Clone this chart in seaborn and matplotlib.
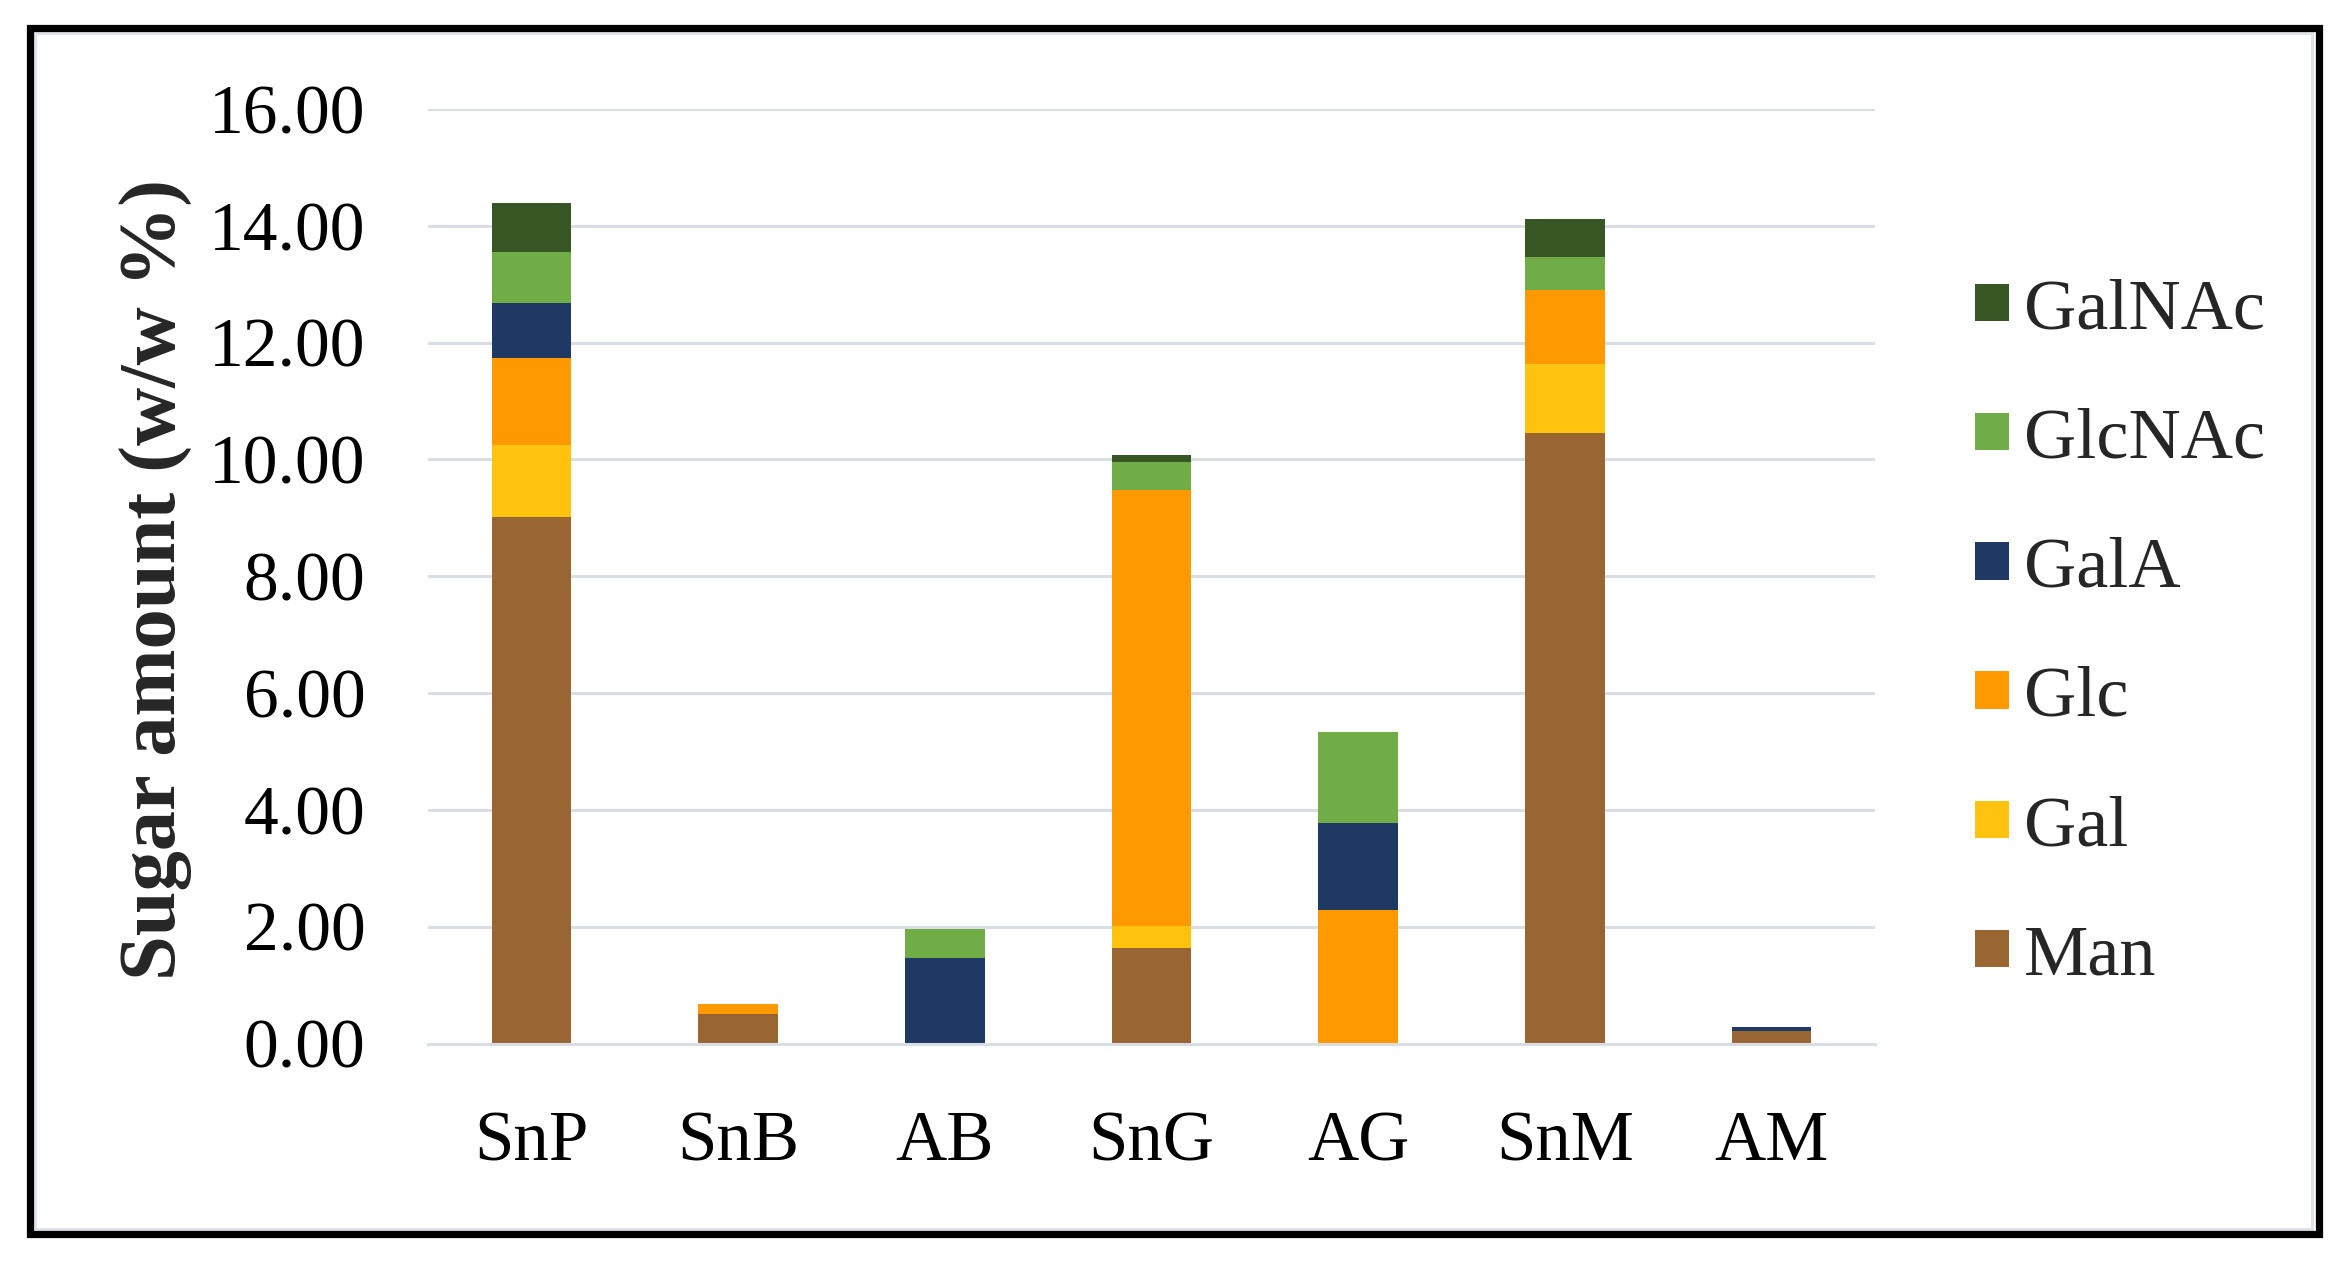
import numpy as np
import pandas as pd
import matplotlib
matplotlib.use("Agg")
import matplotlib.pyplot as plt
import matplotlib.ticker as ticker
from matplotlib.patches import Rectangle
import seaborn as sns

samples = ["SnP", "SnB", "AB", "SnG", "AG", "SnM", "AM"]

# sugar amounts (w/w %)
man = [9.02, 0.50, 0.00, 1.64, 0.00, 10.45, 0.22]
gal = [1.23, 0.00, 0.00, 0.37, 0.00, 1.18, 0.00]
glc = [1.48, 0.17, 0.00, 7.46, 2.29, 1.27, 0.00]
gala = [0.95, 0.00, 1.46, 0.00, 1.49, 0.00, 0.06]
glcnac = [0.88, 0.00, 0.50, 0.49, 1.55, 0.56, 0.00]
galnac = [0.83, 0.00, 0.00, 0.11, 0.00, 0.66, 0.00]

sugars = ["Man", "Gal", "Glc", "GalA", "GlcNAc", "GalNAc"]
colors = ["#996633", "#FFC20E", "#FF9900", "#1F3864", "#70AD47", "#375623"]
yticks = [0, 2, 4, 6, 8, 10, 12, 14, 16]

df = pd.DataFrame({"Man": man, "Gal": gal, "Glc": glc, "GalA": gala,
                   "GlcNAc": glcnac, "GalNAc": galnac}, index=samples)
cum = df.cumsum(axis=1)

sns.set_theme(style="white")
plt.rcParams["font.family"] = ["Liberation Serif", "DejaVu Serif"]

W, H, DPI = 2350, 1262, 100
fig = plt.figure(figsize=(W / DPI, H / DPI), dpi=DPI)
fig.patch.set_facecolor("white")

# plot area in pixels
left_px, right_px, top_px, bot_px = 428, 1875, 109, 1043.5
ax = fig.add_axes([left_px / W, 1 - bot_px / H,
                   (right_px - left_px) / W, (bot_px - top_px) / H])

grid_c = "#D9DEE6"

# stacked bars: draw cumulative totals from the top series down
for name, col in zip(sugars[::-1], colors[::-1]):
    sns.barplot(x=samples, y=cum[name].values, color=col, width=0.385,
                errorbar=None, linewidth=0, saturation=1, label=name, ax=ax)

ax.set_ylim(0, 16)
ax.set_xlim(-0.5, 6.5)
ax.set_yticks(yticks)
ax.yaxis.set_major_formatter(ticker.FormatStrFormatter("%.2f"))
ax.tick_params(axis="y", length=0, pad=45, labelsize=50, labelcolor="black")
ax.set_xticks(range(len(samples)))
ax.set_xticklabels(samples)
ax.set_xticks(np.arange(-0.5, 7, 1), minor=True)
ax.tick_params(axis="x", which="major", length=0, pad=48, labelsize=51,
               labelcolor="black")
ax.tick_params(axis="x", which="minor", length=18, width=2.2, color=grid_c,
               direction="out")

ax.yaxis.grid(True, color=grid_c, linewidth=2.2)
ax.xaxis.grid(False)
ax.set_axisbelow(True)
for s in ["top", "right", "left"]:
    ax.spines[s].set_visible(False)
ax.spines["bottom"].set_color(grid_c)
ax.spines["bottom"].set_linewidth(2.2)

ax.set_ylabel("Sugar amount (w/w %)", fontsize=58, fontweight="bold",
              va="center")
ax.yaxis.set_label_coords(-0.188, 0.496)
ax.set_xlabel("")

handles, labels = ax.get_legend_handles_labels()
leg = ax.legend(handles, labels, loc="upper left",
                bbox_to_anchor=(1.049, 0.85), frameon=False, fontsize=52,
                handlelength=0.48, handleheight=0.42, handletextpad=0.2,
                labelspacing=0.89, borderaxespad=0)

# picture frame
fig.patches.append(Rectangle((34.5 / W, 1 - 1228.5 / H), (2312 - 34.5) / W,
                             (1228.5 - 33) / H, transform=fig.transFigure,
                             fill=False, edgecolor="#DDE3EA", linewidth=2.2))
fig.patches.append(Rectangle((29.5 / W, 1 - 1233.5 / H), (2318.5 - 29.5) / W,
                             (1233.5 - 27.5) / H, transform=fig.transFigure,
                             fill=False, edgecolor="black", linewidth=5.2))

fig.savefig("out.png", dpi=DPI, facecolor="white")
